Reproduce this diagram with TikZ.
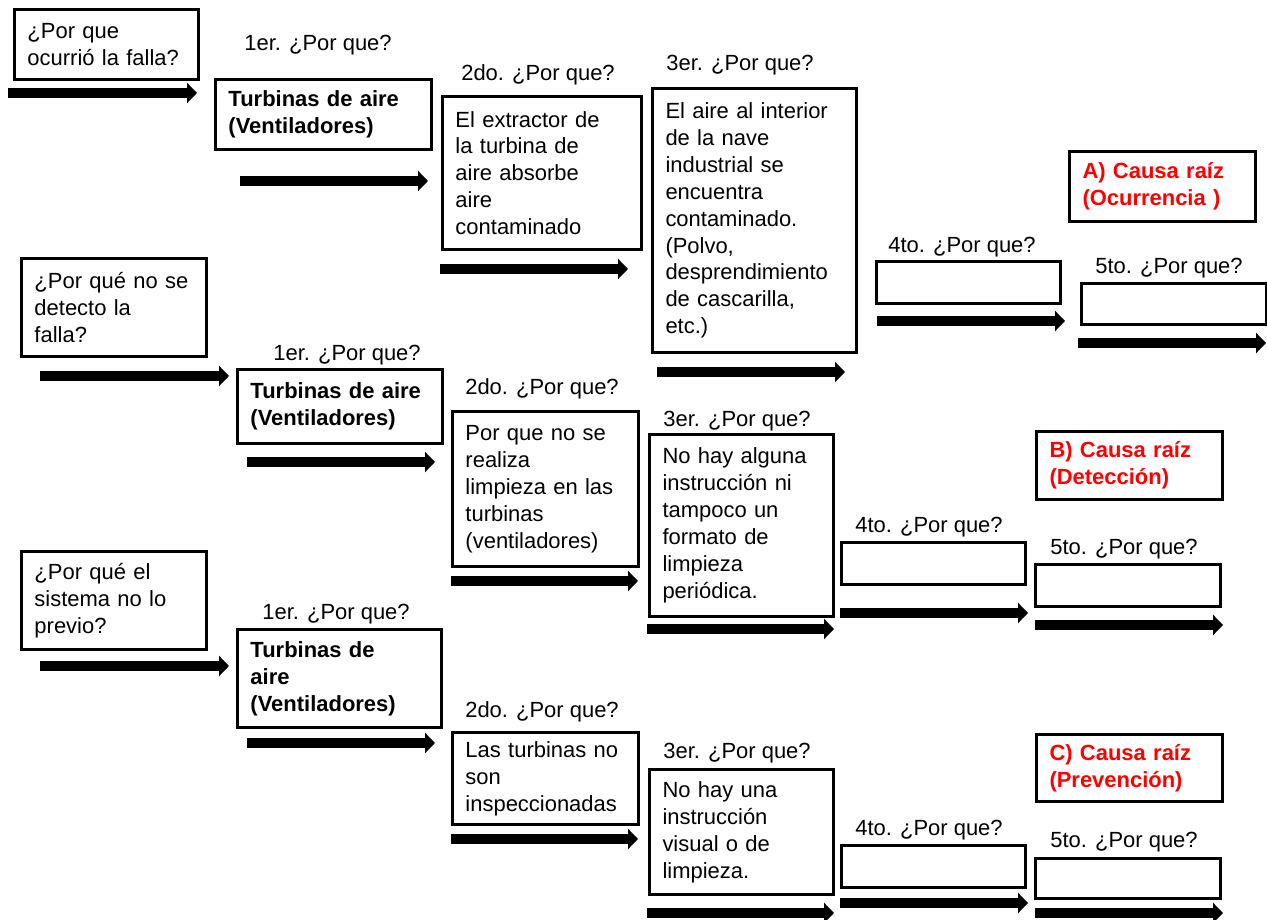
\documentclass[tikz,border=0pt]{standalone}
\usepackage{fontspec}
\setmainfont{Liberation Sans}
\usetikzlibrary{calc,arrows.meta}
\newcommand\letra{\fontsize{12.5}{15.3}\selectfont}
\tikzset{
  caja/.style 2 args={draw,line width=1.7pt,anchor=north west,inner xsep=0.26cm,inner ysep=0pt,
    minimum width=#1*0.02cm,minimum height=#2*0.02cm,text width=#1*0.02cm-0.52cm,align=left},
  causa/.style 2 args={caja={#1}{#2},text=red,font=\letra\bfseries},
  pregunta/.style={inner sep=0pt},
  flecha/.style={line width=0.19cm,-{Triangle[length=0.2cm,width=0.4cm]}}
}

\begin{document}
\begin{tikzpicture}[x=0.02cm,y=-0.02cm,font=\letra]
  \useasboundingbox (0,0) rectangle (1267,919);

  % A) ocurrencia
  \node[caja={184}{70}] (a0) at (13,8) {¿Por que\\ocurrió la falla?};
  \node[caja={216}{70},font=\letra\bfseries] (a1) at (214,78) {Turbinas de aire\\(Ventiladores)};
  \node[caja={199}{153}] (a2) at (441,95) {El extractor de\\la turbina de\\aire absorbe\\aire\\contaminado};
  \node[caja={204}{264}] (a3) at (651,87) {El aire al interior\\de la nave\\industrial se\\encuentra\\contaminado.\\(Polvo,\\desprendimiento\\de cascarilla,\\etc.)};
  \node[caja={184}{42}] (a4) at (875,260) {};
  \node[caja={185}{41}] (a5) at (1080,282) {};
  \node[causa={186}{70}] (ca) at (1068,150) {A) Causa raíz\\(Ocurrencia )};

  \node[pregunta] (pa1) at (318,45) {1er. ¿Por que?};
  \node[pregunta] (pa2) at (538,75) {2do. ¿Por que?};
  \node[pregunta] (pa3) at (740,65) {3er. ¿Por que?};
  \node[pregunta] (pa4) at (962,247) {4to. ¿Por que?};
  \node[pregunta] (pa5) at (1169,268) {5to. ¿Por que?};

  \draw[flecha] ($ (a0.south west) + (-5,12) $) -- ++(189,0);
  \draw[flecha] ($ (a1.south west) + (26,30) $) -- ++(188,0);
  \draw[flecha] ($ (a2.south west) + (-1,18) $) -- ++(188,0);
  \draw[flecha] ($ (a3.south west) + (6,18) $) -- ++(188,0);
  \draw[flecha] ($ (a4.south west) + (2,16) $) -- ++(188,0);
  \draw[flecha] ($ (a5.south west) + (-2,17) $) -- ++(188,0);

  % B) deteccion
  \node[caja={185}{98}] (b0) at (20,257) {¿Por qué no se\\detecto la\\falla?};
  \node[caja={205}{74},font=\letra\bfseries] (b1) at (236,368) {Turbinas de aire\\(Ventiladores)};
  \node[caja={186}{155}] (b2) at (451,410) {Por que no se\\realiza\\limpieza en las\\turbinas\\(ventiladores)};
  \node[caja={184}{182}] (b3) at (648,433) {No hay alguna\\instrucción ni\\tampoco un\\formato de\\limpieza\\periódica.};
  \node[caja={184}{42}] (b4) at (840,541) {};
  \node[caja={185}{42}] (b5) at (1034,563) {};
  \node[causa={186}{68}] (cb) at (1035,430) {B) Causa raíz\\(Detección)};

  \node[pregunta] (pb1) at (347,355) {1er. ¿Por que?};
  \node[pregunta] (pb2) at (542,389) {2do. ¿Por que?};
  \node[pregunta] (pb3) at (737,421) {3er. ¿Por que?};
  \node[pregunta] (pb4) at (929,527) {4to. ¿Por que?};
  \node[pregunta] (pb5) at (1124,549) {5to. ¿Por que?};

  \draw[flecha] ($ (b0.south west) + (20,18) $) -- ++(189,0);
  \draw[flecha] ($ (b1.south west) + (11,17) $) -- ++(188,0);
  \draw[flecha] ($ (b2.south west) + (0,13) $) -- ++(187,0);
  \draw[flecha] ($ (b3.south west) + (-1,11) $) -- ++(187,0);
  \draw[flecha] ($ (b4.south west) + (0,27) $) -- ++(188,0);
  \draw[flecha] ($ (b5.south west) + (1,17) $) -- ++(188,0);

  % C) prevencion
  \node[caja={185}{98}] (c0) at (20,550) {¿Por qué el\\sistema no lo\\previo?};
  \node[caja={204}{98},font=\letra\bfseries] (c1) at (236,628) {Turbinas de\\aire\\(Ventiladores)};
  \node[caja={186}{92}] (c2) at (451,731) {Las turbinas no\\son\\inspeccionadas};
  \node[caja={184}{125}] (c3) at (648,768) {No hay una\\instrucción\\visual o de\\limpieza.};
  \node[caja={184}{42}] (c4) at (840,844) {};
  \node[caja={185}{40}] (c5) at (1034,857) {};
  \node[causa={186}{67}] (cc) at (1035,733) {C) Causa raíz\\(Prevención)};

  \node[pregunta] (pc1) at (336,614) {1er. ¿Por que?};
  \node[pregunta] (pc2) at (542,712) {2do. ¿Por que?};
  \node[pregunta] (pc3) at (737,753) {3er. ¿Por que?};
  \node[pregunta] (pc4) at (929,830) {4to. ¿Por que?};
  \node[pregunta] (pc5) at (1124,842) {5to. ¿Por que?};

  \draw[flecha] ($ (c0.south west) + (20,15) $) -- ++(189,0);
  \draw[flecha] ($ (c1.south west) + (11,14) $) -- ++(188,0);
  \draw[flecha] ($ (c2.south west) + (0,13) $) -- ++(187,0);
  \draw[flecha] ($ (c3.south west) + (-1,17) $) -- ++(187,0);
  \draw[flecha] ($ (c4.south west) + (0,14) $) -- ++(188,0);
  \draw[flecha] ($ (c5.south west) + (1,13) $) -- ++(188,0);
\end{tikzpicture}
\end{document}
